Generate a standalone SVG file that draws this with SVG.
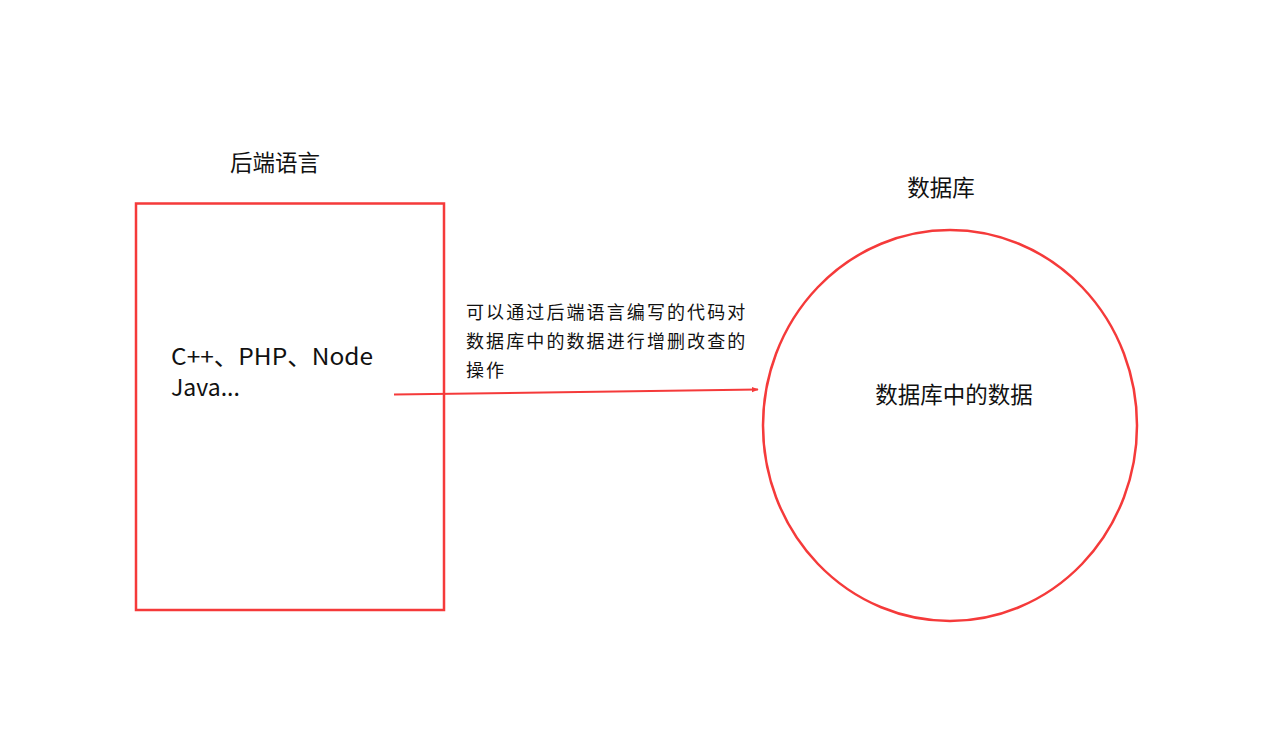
<svg xmlns="http://www.w3.org/2000/svg" width="1261" height="736" viewBox="0 0 1261 736">
<defs>
<style>
text{font-family:"Noto Sans CJK SC","Noto Sans",sans-serif;fill:#111}
.shape{fill:none;stroke:#f53a3a;stroke-width:2.5}
.t22{font-size:22.5px}
.t23{font-size:23px}
.t18{font-size:18px;letter-spacing:2.1px}
</style>
<marker id="arr" viewBox="0 0 10 10" refX="9" refY="5" markerWidth="7" markerHeight="7" orient="auto" markerUnits="userSpaceOnUse">
<path d="M0,1 L10,5 L0,9 Z" fill="#f53a3a"/>
</marker>
</defs>
<rect width="1261" height="736" fill="#fff"/>
<g id="backend">
<text class="t22" x="275" y="171" text-anchor="middle">后端语言</text>
<rect class="shape" x="136" y="203.5" width="308" height="406.5"/>
<text class="t23" x="171" y="364.5" textLength="202" lengthAdjust="spacingAndGlyphs">C++、PHP、Node</text>
<text class="t23" x="171" y="395.5">Java...</text>
</g>
<g id="database">
<text class="t22" x="941" y="196" text-anchor="middle">数据库</text>
<ellipse class="shape" cx="950" cy="425.5" rx="187" ry="195.5"/>
<text class="t22" x="954" y="403" text-anchor="middle">数据库中的数据</text>
</g>
<g id="connectors">
<line x1="394" y1="394.5" x2="758" y2="389.5" stroke="#f53a3a" stroke-width="2" marker-end="url(#arr)"/>
<text class="t18" x="466" y="319">可以通过后端语言编写的代码对</text>
<text class="t18" x="466" y="348">数据库中的数据进行增删改查的</text>
<text class="t18" x="466" y="377">操作</text>
</g>
</svg>
